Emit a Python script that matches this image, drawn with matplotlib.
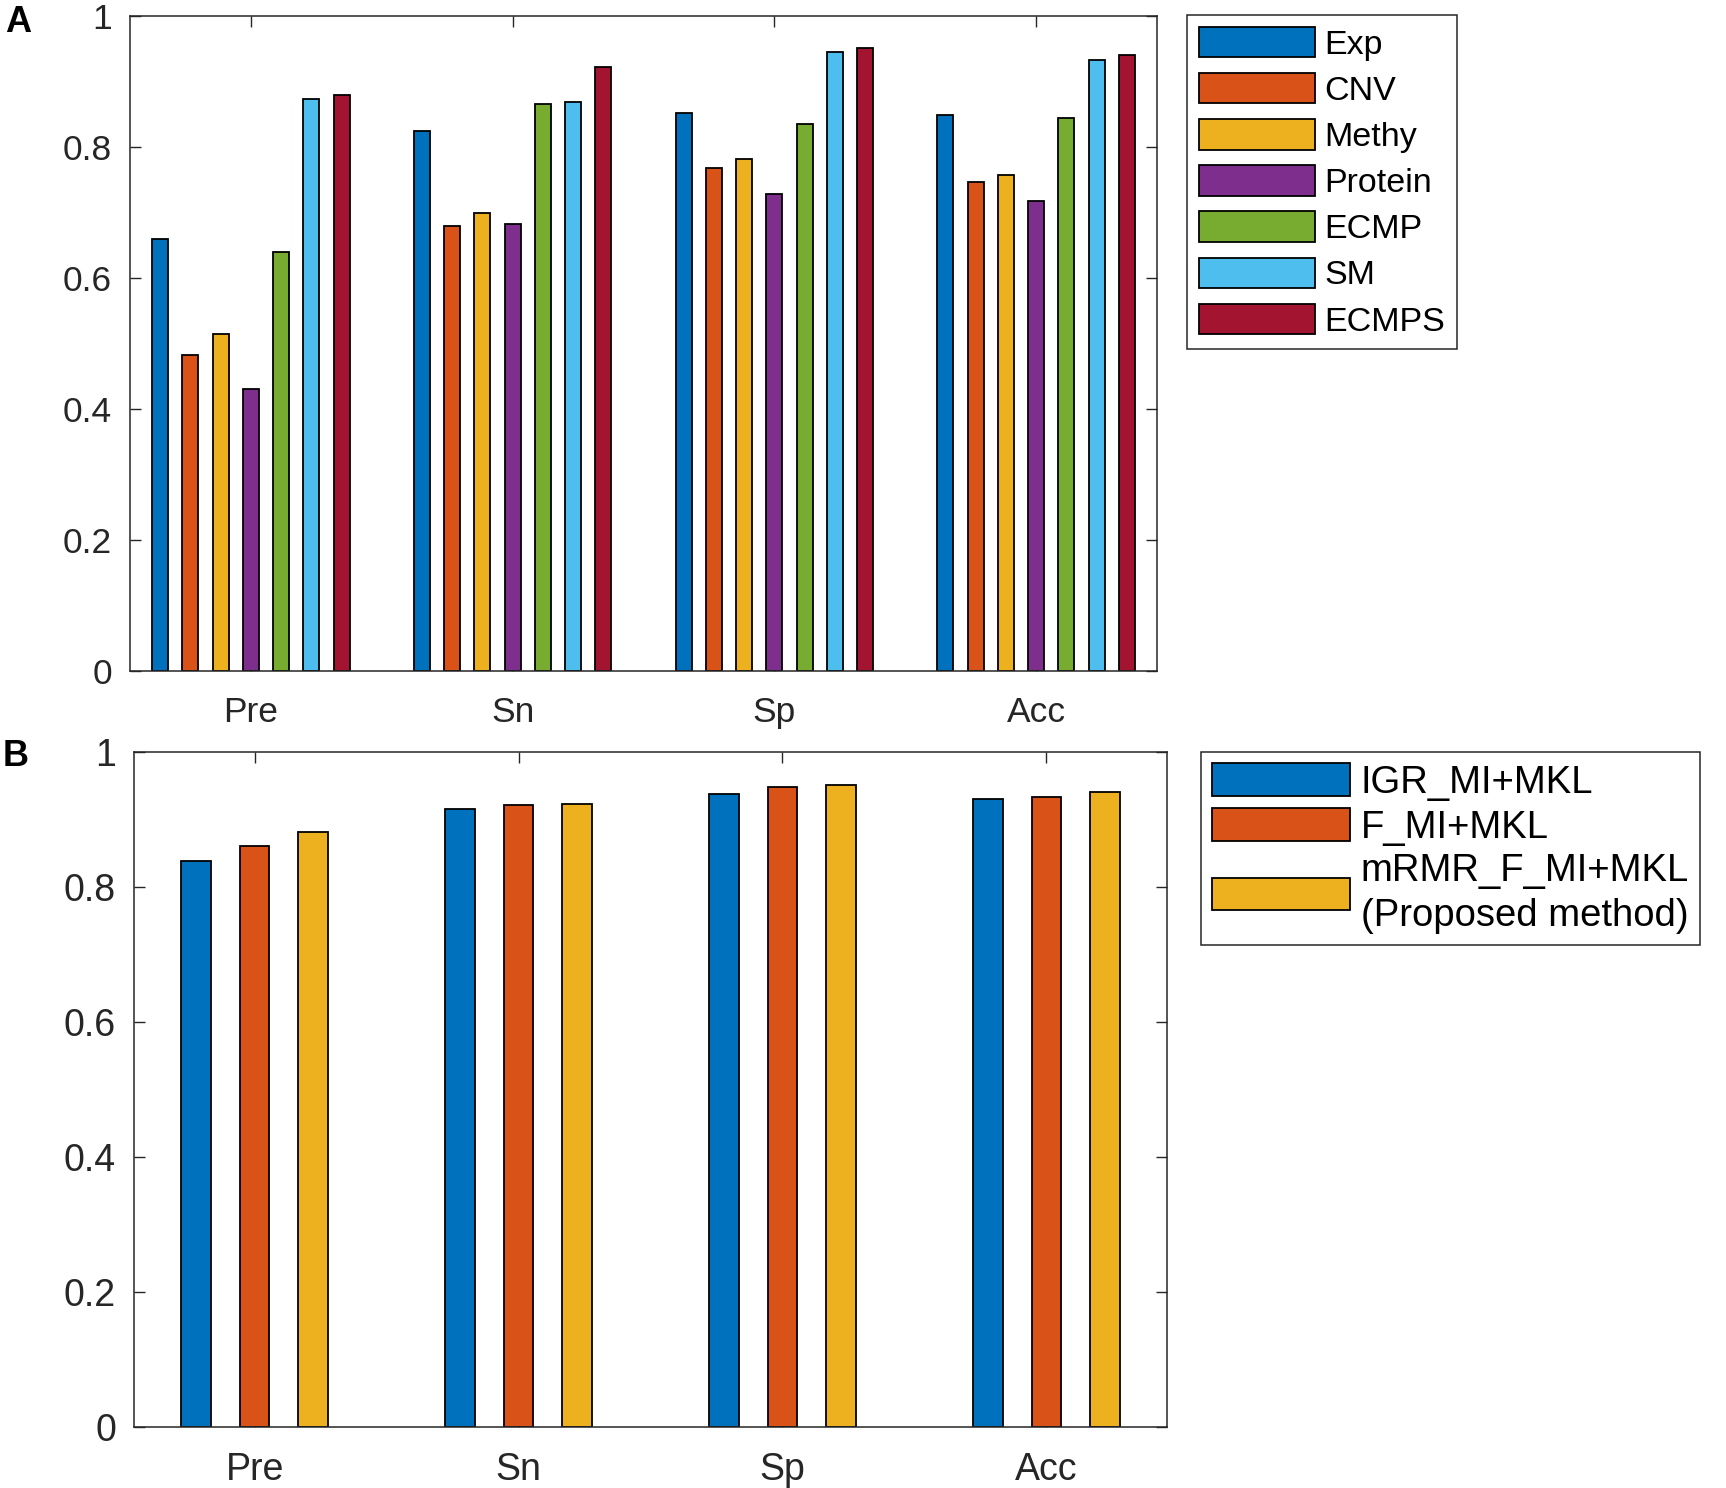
import matplotlib
matplotlib.use('Agg')
import matplotlib.pyplot as plt
import numpy as np

plt.rcParams['font.family'] = ['Liberation Sans', 'DejaVu Sans']

metrics = ['Pre', 'Sn', 'Sp', 'Acc']

# panel A - single data types vs combined
names_a = ['Exp', 'CNV', 'Methy', 'Protein', 'ECMP', 'SM', 'ECMPS']
exp_v = [0.659, 0.824, 0.852, 0.849]
cnv_v = [0.482, 0.679, 0.768, 0.746]
methy_v = [0.515, 0.700, 0.782, 0.757]
protein_v = [0.430, 0.682, 0.728, 0.718]
ecmp_v = [0.639, 0.866, 0.835, 0.845]
sm_v = [0.873, 0.869, 0.945, 0.933]
ecmps_v = [0.880, 0.922, 0.951, 0.940]

# panel B - feature selection methods
names_b = ['IGR_MI+MKL', 'F_MI+MKL', 'mRMR_F_MI+MKL\n(Proposed method)']
igr_v = [0.839, 0.916, 0.938, 0.931]
fmi_v = [0.861, 0.921, 0.948, 0.933]
mrmr_v = [0.881, 0.923, 0.951, 0.941]

colors = ['#0072BD', '#D95319', '#EDB120', '#7E2F8E', '#77AC30', '#4DBEEE', '#A2142F']
axcol = '#262626'

W, H = 1726, 1488
fig = plt.figure(figsize=(W / 100, H / 100), dpi=100)

def style_axes(ax, xl, fs):
    ax.set_xlim(xl)
    ax.set_ylim(0, 1)
    ax.set_xticks(np.arange(1, 5))
    ax.set_xticklabels(metrics)
    ax.set_yticks([0, 0.2, 0.4, 0.6, 0.8, 1])
    ax.set_yticklabels(['0', '0.2', '0.4', '0.6', '0.8', '1'])
    ax.tick_params(direction='in', length=7.7, width=1.0, color=axcol,
                   labelcolor=axcol, labelsize=fs, top=True, right=True)
    ax.tick_params(axis='y', pad=13)
    ax.tick_params(axis='x', pad=18)
    for s in ax.spines.values():
        s.set_color(axcol)
        s.set_linewidth(1.1)

# ---- A ----
axA = fig.add_axes([130 / W, 1 - 671 / H, 1027 / W, 655 / H])
x = np.arange(1, 5)
series_a = [exp_v, cnv_v, methy_v, protein_v, ecmp_v, sm_v, ecmps_v]
for i, vals in enumerate(series_a):
    axA.bar(x + (i - 3) * 0.1155, vals, width=0.061, color=colors[i],
            edgecolor='black', linewidth=1.3, label=names_a[i], zorder=2)
style_axes(axA, (0.538, 4.462), 25.5)
legA = axA.legend(loc='upper left', bbox_to_anchor=(1187 / W, 1 - 15 / H),
                  bbox_transform=fig.transFigure, borderaxespad=0,
                  fontsize=24.5, handlelength=3.4, handleheight=1.0,
                  handletextpad=0.28, labelspacing=0.36, borderpad=0.35,
                  fancybox=False, framealpha=1)
legA.get_frame().set_edgecolor(axcol)
legA.get_frame().set_linewidth(1.1)

# ---- B ----
axB = fig.add_axes([134 / W, 1 - 1427 / H, 1033 / W, 675 / H])
series_b = [igr_v, fmi_v, mrmr_v]
for i, vals in enumerate(series_b):
    axB.bar(x + (i - 1) * 0.222, vals, width=0.112, color=colors[i],
            edgecolor='black', linewidth=1.3, label=names_b[i], zorder=2)
style_axes(axB, (0.543, 4.457), 27)
legB = axB.legend(loc='upper left', bbox_to_anchor=(1201 / W, 1 - 752 / H),
                  bbox_transform=fig.transFigure, borderaxespad=0,
                  fontsize=27.5, handlelength=3.6, handleheight=0.92,
                  handletextpad=0.28, labelspacing=0.2, borderpad=0.3,
                  fancybox=False, framealpha=1)
for t in legB.get_texts():
    t.set_linespacing(1.3)
legB.get_frame().set_edgecolor(axcol)
legB.get_frame().set_linewidth(1.1)

fig.text(5 / W, 1 - 5 / H, 'A', fontsize=26, fontweight='bold', va='top', ha='left')
fig.text(3 / W, 1 - 739 / H, 'B', fontsize=26, fontweight='bold', va='top', ha='left')

fig.savefig('out.png', dpi=100)
